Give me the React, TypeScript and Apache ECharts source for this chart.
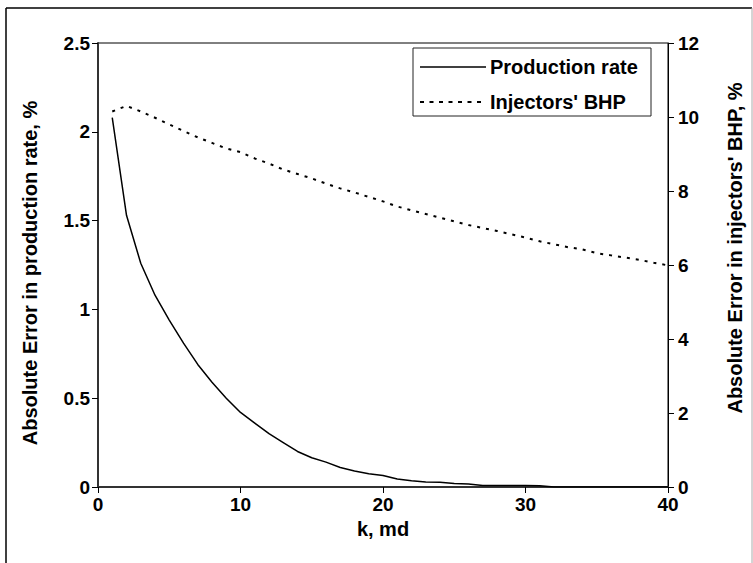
import React, { useEffect, useRef } from "react";
import * as echarts from "echarts";

// permeability, md
const kValues = [
  1, 2, 3, 4, 5, 6, 7, 8, 9, 10, 11, 12, 13, 14, 15, 16, 17, 18, 19, 20,
  21, 22, 23, 24, 25, 26, 27, 28, 29, 30, 31, 32, 33, 34, 35, 36, 37, 38, 39, 40,
];

// absolute error in production rate, %
const productionRateError = [
  2.08, 1.53, 1.26, 1.08, 0.94, 0.81, 0.69, 0.59, 0.5, 0.42,
  0.36, 0.3, 0.25, 0.2, 0.165, 0.14, 0.11, 0.09, 0.075, 0.065,
  0.045, 0.035, 0.028, 0.027, 0.02, 0.017, 0.008, 0.008, 0.008, 0.008,
  0.007, 0, 0, 0, 0, 0, 0, 0, 0, 0,
];

// absolute error in injectors' bottom-hole pressure, %
const injectorBhpError = [
  10.15, 10.3, 10.15, 9.98, 9.8, 9.62, 9.45, 9.3, 9.15, 9.05,
  8.88, 8.74, 8.58, 8.46, 8.34, 8.2, 8.07, 7.96, 7.84, 7.72,
  7.58, 7.48, 7.38, 7.28, 7.18, 7.08, 7.0, 6.92, 6.83, 6.74,
  6.64, 6.56, 6.48, 6.42, 6.32, 6.26, 6.2, 6.14, 6.06, 5.99,
];

const seriesNames = ["Production rate", "Injectors' BHP"];

const FONT = "'Liberation Sans', Arial, sans-serif";
const BHP_DASH = [3, 6];

export default function App() {
  const ref = useRef<HTMLDivElement>(null);

  useEffect(() => {
    document.body.style.margin = "0";
    if (!ref.current) return;
    const chart = echarts.init(ref.current, null, { renderer: "svg" });

    const tickText = {
      fontFamily: FONT,
      fontWeight: "bold" as const,
      fontSize: 19,
      color: "#000",
    };
    const titleText = { ...tickText, fontSize: 20 };

    // boxed legend in the upper right of the plot
    const legendX = 413;
    const legendY = 48;
    const legendRows = [67, 102];
    const legendGraphics: any[] = [
      {
        type: "rect",
        shape: { x: legendX, y: legendY, width: 238, height: 68 },
        style: { fill: "#fff", stroke: "#222", lineWidth: 1 },
        silent: true,
        z: 10,
      },
      {
        type: "line",
        shape: { x1: 420, y1: legendRows[0], x2: 486, y2: legendRows[0] },
        style: { stroke: "#000", lineWidth: 1.5 },
        silent: true,
        z: 11,
      },
      {
        type: "line",
        shape: { x1: 420, y1: legendRows[1], x2: 486, y2: legendRows[1] },
        style: { stroke: "#000", lineWidth: 2, lineDash: [4, 5.5] },
        silent: true,
        z: 11,
      },
      ...seriesNames.map((name, i) => ({
        type: "text",
        x: 490,
        y: legendRows[i],
        style: {
          text: name,
          fontFamily: FONT,
          fontWeight: "bold",
          fontSize: 20,
          fill: "#000",
          verticalAlign: "middle",
          align: "left",
        },
        silent: true,
        z: 11,
      })),
    ];

    chart.setOption({
      animation: false,
      backgroundColor: "#fff",
      textStyle: { fontFamily: FONT },
      grid: {
        left: 98,
        right: 85,
        top: 43,
        bottom: 76,
        show: true,
        borderColor: "#000",
        borderWidth: 1,
        containLabel: false,
      },
      xAxis: {
        type: "value",
        min: 0,
        max: 40,
        interval: 10,
        name: "k, md",
        nameLocation: "middle",
        nameGap: 27,
        nameTextStyle: titleText,
        axisLine: { show: true, lineStyle: { color: "#333", width: 2 } },
        axisTick: { show: true, inside: false, length: 6, lineStyle: { color: "#000" } },
        axisLabel: { ...tickText, margin: 8 },
        splitLine: { show: false },
      },
      yAxis: [
        {
          type: "value",
          min: 0,
          max: 2.5,
          interval: 0.5,
          position: "left",
          name: "Absolute Error in production rate, %",
          nameLocation: "middle",
          nameGap: 58,
          nameRotate: 90,
          // nudge the title slightly toward the bottom of the axis
          nameTextStyle: { ...titleText, padding: [0, 16, 0, 0] },
          axisLine: { show: true, lineStyle: { color: "#333", width: 2 } },
          axisTick: { show: true, inside: false, length: 6, lineStyle: { color: "#000" } },
          axisLabel: { ...tickText, margin: 8 },
          splitLine: { show: false },
        },
        {
          type: "value",
          min: 0,
          max: 12,
          interval: 2,
          position: "right",
          name: "Absolute Error in injectors' BHP, %",
          nameLocation: "middle",
          nameGap: 57,
          nameRotate: 90,
          // nudge the title toward the top of the axis
          nameTextStyle: { ...titleText, padding: [0, 0, 0, 34] },
          axisLine: { show: true, lineStyle: { color: "#000", width: 1 } },
          axisTick: { show: true, inside: false, length: 6, lineStyle: { color: "#000" } },
          axisLabel: { ...tickText, margin: 10 },
          splitLine: { show: false },
        },
      ],
      series: [
        {
          name: seriesNames[0],
          type: "line",
          yAxisIndex: 0,
          data: kValues.map((k, i) => [k, productionRateError[i]]),
          symbol: "none",
          showSymbol: false,
          lineStyle: { color: "#000", width: 1.5, type: "solid" },
          itemStyle: { color: "#000" },
        },
        {
          name: seriesNames[1],
          type: "line",
          yAxisIndex: 1,
          data: kValues.map((k, i) => [k, injectorBhpError[i]]),
          symbol: "none",
          showSymbol: false,
          lineStyle: { color: "#000", width: 2, type: BHP_DASH },
          itemStyle: { color: "#000" },
        },
      ],
      graphic: [
        {
          type: "line",
          shape: { x1: 6, y1: 8, x2: 752, y2: 8 },
          style: { stroke: "#000", lineWidth: 1.5 },
          silent: true,
        },
        {
          type: "line",
          shape: { x1: 6, y1: 8, x2: 6, y2: 563 },
          style: { stroke: "#000", lineWidth: 1.5 },
          silent: true,
        },
        {
          type: "line",
          shape: { x1: 752, y1: 8, x2: 752, y2: 563 },
          style: { stroke: "#aaa", lineWidth: 1 },
          silent: true,
        },
        ...legendGraphics,
      ],
    });

    return () => chart.dispose();
  }, []);

  return <div ref={ref} style={{ width: 753, height: 563 }} />;
}
